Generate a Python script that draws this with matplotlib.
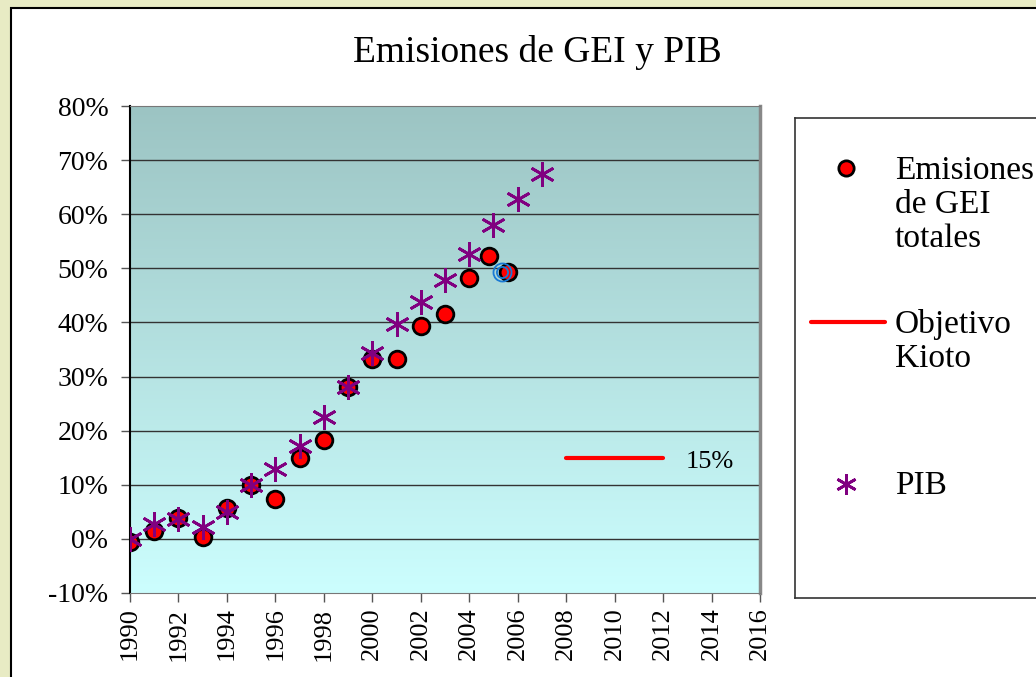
import matplotlib.pyplot as plt
import numpy as np
from matplotlib.patches import Rectangle
from matplotlib.colors import LinearSegmentedColormap

plt.rcParams["font.family"] = ["Liberation Serif", "DejaVu Serif"]

TITLE = "Emisiones de GEI y PIB"

# Emisiones de GEI totales (% over 1990)
gei_years = [1990, 1991, 1992, 1993, 1994, 1995, 1996, 1997, 1998, 1999,
             2000, 2001, 2002, 2003, 2004, 2004.8, 2005.6]
gei_values = [-0.5, 1.4, 3.9, 0.3, 5.8, 9.9, 7.3, 14.9, 18.2, 28.0,
              33.2, 33.2, 39.3, 41.5, 48.2, 52.2, 49.4]

# PIB (% over 1990)
pib_years = list(range(1990, 2008))
pib_values = [0.0, 2.7, 3.7, 2.2, 4.9, 10.0, 12.9, 17.1, 22.5, 28.0,
              34.3, 39.7, 43.7, 47.8, 52.6, 58.1, 62.9, 67.4]

# Objetivo Kioto
kioto_years = [2008, 2012]
kioto_values = [15, 15]
kioto_label = "15%"

# highlighted point (blue double circle)
hl_year = 2005.35
hl_value = 49.4

x_ticks = list(range(1990, 2017, 2))
y_ticks = list(range(-10, 81, 10))

legend_labels = ["Emisiones\nde GEI\ntotales", "Objetivo\nKioto", "PIB"]

PURPLE = "#800080"
ASTER = (6, 2, 0)

fig = plt.figure(figsize=(10.36, 6.77), dpi=100)
fig.patch.set_facecolor("#e8ebc4")

# white slide panel behind everything
bg = fig.add_axes([0, 0, 1, 1], zorder=-5)
bg.set_xlim(0, 1036)
bg.set_ylim(677, 0)
bg.axis("off")
bg.add_patch(Rectangle((11, 8), 1100, 800, facecolor="white",
                       edgecolor="black", linewidth=1.5))

ax = fig.add_axes([130 / 1036, 1 - 593 / 677, 630 / 1036, 487 / 677])
ax.set_xlim(1990, 2016)
ax.set_ylim(-10, 80)

# gradient background
cmap = LinearSegmentedColormap.from_list("bg", ["#ccfefe", "#9cc4c3"])
grad = np.linspace(0, 1, 256).reshape(-1, 1)
ax.imshow(grad, extent=[1990, 2016, -10, 80], origin="lower", cmap=cmap,
          aspect="auto", zorder=0)

for yv in y_ticks[1:-1]:
    ax.axhline(yv, color="#333333", linewidth=1.0, zorder=1)

ax.plot(kioto_years, kioto_values, color="#ff0000", linewidth=3,
        solid_capstyle="round", zorder=3)
ax.text(2012.95, 14.2, kioto_label, fontsize=19, va="center", ha="left")

ax.plot(gei_years, gei_values, linestyle="none", marker="o", markersize=12,
        markerfacecolor="#ff0000", markeredgecolor="black",
        markeredgewidth=2, zorder=4)
ax.plot(pib_years, pib_values, linestyle="none", marker=ASTER, markersize=18,
        markeredgecolor=PURPLE, markeredgewidth=2, zorder=5)
ax.plot([hl_year], [hl_value], linestyle="none", marker="o", markersize=13,
        markerfacecolor="none", markeredgecolor="#1a7ad4",
        markeredgewidth=1.3, zorder=6)
ax.plot([hl_year], [hl_value], linestyle="none", marker="o", markersize=8,
        markerfacecolor="none", markeredgecolor="#1a7ad4",
        markeredgewidth=1.3, zorder=6)

ax.set_xticks(x_ticks)
ax.set_xticklabels([str(x) for x in x_ticks], rotation=90, fontsize=19)
ax.set_yticks(y_ticks)
ax.set_yticklabels([f"{y}%" for y in y_ticks], fontsize=20)
ax.tick_params(axis="both", direction="out", length=6.5, width=1, color="#555555")
ax.tick_params(axis="y", pad=9)
ax.tick_params(axis="x", pad=4)
ax.spines["left"].set_linewidth(1.5)
ax.spines["bottom"].set_color("#777777")
ax.spines["top"].set_color("#777777")
ax.spines["right"].set_color("#888888")
ax.spines["right"].set_linewidth(2.5)

fig.text(537 / 1036, 1 - 52 / 677, TITLE, fontsize=27, ha="center", va="center")

# legend box drawn manually
lax = fig.add_axes([795 / 1036, 1 - 598 / 677, 300 / 1036, 480 / 677])
lax.set_xlim(795, 1095)
lax.set_ylim(598, 118)
lax.set_xticks([])
lax.set_yticks([])
lax.patch.set_facecolor("white")
for s in lax.spines.values():
    s.set_color("#333333")
    s.set_linewidth(1.2)
lax.plot([846], [168], marker="o", markersize=11, markerfacecolor="#ff0000",
         markeredgecolor="black", markeredgewidth=2)
lax.plot([811, 885], [322, 322], color="#ff0000", linewidth=3,
         solid_capstyle="round")
lax.plot([846], [484], marker=ASTER, markersize=15, markeredgecolor=PURPLE,
         markeredgewidth=2, linestyle="none")
lax.text(895, 155, legend_labels[0], fontsize=24, va="top", ha="left",
         linespacing=1.15)
lax.text(895, 309, legend_labels[1], fontsize=24, va="top", ha="left",
         linespacing=1.15)
lax.text(895, 470, legend_labels[2], fontsize=24, va="top", ha="left")

fig.savefig("out.png", dpi=100, facecolor=fig.get_facecolor())
